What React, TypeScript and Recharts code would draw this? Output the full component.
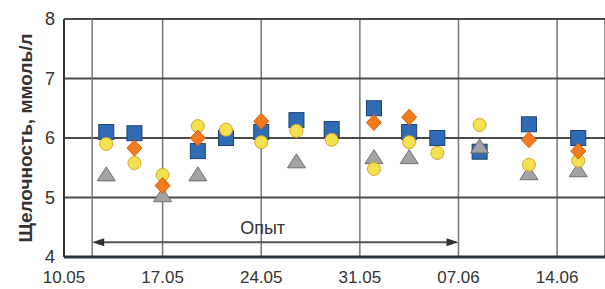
import { ScatterChart, Scatter, XAxis, YAxis, CartesianGrid, ReferenceLine, ReferenceDot } from "recharts"

// x = days since 10.05
const tickDays = [0, 7, 14, 21, 28, 35]
const tickDates = ["10.05", "17.05", "24.05", "31.05", "07.06", "14.06"]
const valueTicks = [4, 5, 6, 7, 8]

const squareDays = [3, 5, 9.5, 11.5, 14, 16.5, 19, 22, 24.5, 26.5, 29.5, 33, 36.5]
const squareValues = [6.1, 6.08, 5.78, 6.0, 6.1, 6.3, 6.15, 6.5, 6.1, 6.0, 5.77, 6.23, 6.0]

const diamondDays = [5, 7, 9.5, 14, 22, 24.5, 33, 36.5]
const diamondValues = [5.83, 5.2, 6.0, 6.28, 6.26, 6.35, 5.97, 5.78]

const circleDays = [3, 5, 7, 9.5, 11.5, 14, 16.5, 19, 22, 24.5, 26.5, 29.5, 33, 36.5]
const circleValues = [5.9, 5.58, 5.38, 6.2, 6.14, 5.93, 6.12, 5.97, 5.48, 5.93, 5.75, 6.22, 5.55, 5.62]

const triangleDays = [3, 7, 9.5, 16.5, 22, 24.5, 29.5, 33, 36.5]
const triangleValues = [5.38, 5.03, 5.38, 5.6, 5.67, 5.67, 5.85, 5.4, 5.45]

const experimentStart = 2 // 12.05
const experimentEnd = 28 // 07.06
const experimentLabel = "Опыт"
const yTitle = "Щелочность, ммоль/л"

const toPoints = (days: number[], values: number[]) => days.map((d, i) => ({ day: d, value: values[i] }))

const font = "'Liberation Sans', Arial, sans-serif"

// eslint-disable-next-line @typescript-eslint/no-explicit-any
const Square = ({ cx, cy }: any) => (
  <rect x={cx - 7.5} y={cy - 7.5} width={15} height={15} fill="#2f6cb5" stroke="#1d3f73" strokeWidth={1} />
)
// eslint-disable-next-line @typescript-eslint/no-explicit-any
const Diamond = ({ cx, cy }: any) => (
  <polygon
    points={`${cx},${cy - 8} ${cx + 7.5},${cy} ${cx},${cy + 8} ${cx - 7.5},${cy}`}
    fill="#f27b1f"
    stroke="#d4600f"
    strokeWidth={1}
  />
)
// eslint-disable-next-line @typescript-eslint/no-explicit-any
const Dot = ({ cx, cy }: any) => <circle cx={cx} cy={cy} r={6.5} fill="#f3e14f" stroke="#d6a52a" strokeWidth={1} />
// eslint-disable-next-line @typescript-eslint/no-explicit-any
const Triangle = ({ cx, cy }: any) => (
  <polygon
    points={`${cx},${cy - 8} ${cx + 9},${cy + 6} ${cx - 9},${cy + 6}`}
    fill="#a3a3a3"
    stroke="#6f6f6f"
    strokeWidth={1}
  />
)

// eslint-disable-next-line @typescript-eslint/no-explicit-any
const Arrow = ({ x1, y1, x2, y2 }: any) => (
  <g>
    <line x1={x1 + 8} y1={y1} x2={x2 - 8} y2={y2} stroke="#555" strokeWidth={2} />
    <polygon points={`${x1},${y1} ${x1 + 12},${y1 - 4} ${x1 + 12},${y1 + 4}`} fill="#333" />
    <polygon points={`${x2},${y2} ${x2 - 12},${y2 - 4} ${x2 - 12},${y2 + 4}`} fill="#333" />
  </g>
)

// eslint-disable-next-line @typescript-eslint/no-explicit-any
const ArrowText = ({ cx, cy }: any) => (
  <text x={cx} y={cy} textAnchor="middle" dominantBaseline="central" fontFamily={font} fontSize={18} fill="#333">
    {experimentLabel}
  </text>
)

// eslint-disable-next-line @typescript-eslint/no-explicit-any
const YTitle = ({ viewBox }: any) => {
  const x = viewBox.x + 25
  const y = viewBox.y + viewBox.height / 2
  return (
    <text
      x={x}
      y={y}
      transform={`rotate(-90 ${x} ${y})`}
      textAnchor="middle"
      dominantBaseline="central"
      fontFamily={font}
      fontWeight="bold"
      fontSize={19}
      fill="#333"
    >
      {yTitle}
    </text>
  )
}

export default function App() {
  const tick = { fill: "#333", fontSize: 17, fontFamily: font }
  return (
    <div style={{ width: 605, height: 289, background: "#fff" }}>
      <style>{"body{margin:0}"}</style>
      <ScatterChart width={605} height={289} margin={{ top: 19, right: 0, bottom: 0, left: 0 }}>
        <CartesianGrid horizontal={false} stroke="#777" strokeWidth={1.5} />
        <CartesianGrid vertical={false} stroke="#4a4a4a" strokeWidth={2} />
        <XAxis
          type="number"
          dataKey="day"
          domain={[0, 38.4]}
          ticks={tickDays}
          tickFormatter={(v: number) => tickDates[tickDays.indexOf(v)]}
          tick={tick}
          tickLine={false}
          tickSize={0}
          tickMargin={14}
          height={32}
          axisLine={{ stroke: "#2d3340", strokeWidth: 3 }}
          allowDataOverflow
        />
        <YAxis
          type="number"
          dataKey="value"
          domain={[4, 8]}
          ticks={valueTicks}
          tick={{ ...tick, fontSize: 18 }}
          tickLine={false}
          tickSize={0}
          tickMargin={9}
          width={64}
          axisLine={{ stroke: "#333", strokeWidth: 2 }}
          label={YTitle}
        />
        <ReferenceLine x={experimentStart} stroke="#777" strokeWidth={1.5} />
        <ReferenceLine
          segment={[
            { x: experimentStart, y: 4.25 },
            { x: experimentEnd, y: 4.25 },
          ]}
          shape={Arrow}
        />
        <ReferenceDot x={14.1} y={4.49} r={0} shape={ArrowText} />
        <Scatter data={toPoints(squareDays, squareValues)} shape={Square} isAnimationActive={false} />
        <Scatter data={toPoints(triangleDays, triangleValues)} shape={Triangle} isAnimationActive={false} />
        <Scatter data={toPoints(circleDays, circleValues)} shape={Dot} isAnimationActive={false} />
        <Scatter data={toPoints(diamondDays, diamondValues)} shape={Diamond} isAnimationActive={false} />
      </ScatterChart>
    </div>
  )
}
